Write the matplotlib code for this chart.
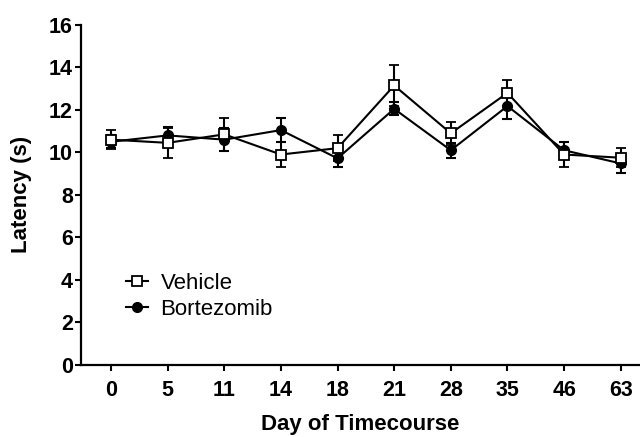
import numpy as np
import matplotlib.pyplot as plt

plt.rcParams['font.family'] = ['Liberation Sans', 'DejaVu Sans']

days = ["0", "5", "11", "14", "18", "21", "28", "35", "46", "63"]

# mean latency (s) and SEM
vehicle = [10.6, 10.45, 10.85, 9.9, 10.2, 13.15, 10.9, 12.8, 9.9, 9.75]
vehicle_sem = [0.45, 0.72, 0.78, 0.6, 0.62, 0.95, 0.55, 0.62, 0.58, 0.44]
bortezomib = [10.5, 10.8, 10.6, 11.05, 9.72, 12.05, 10.1, 12.18, 10.1, 9.48]
bortezomib_sem = [0.3, 0.38, 0.55, 0.55, 0.41, 0.3, 0.36, 0.62, 0.4, 0.44]

x = np.arange(len(days))

fig = plt.figure(figsize=(6.4, 4.37), dpi=100)
ax = fig.add_axes([0.127, 0.165, 0.873, 0.778])

lw = 1.5
b = ax.errorbar(x, bortezomib, yerr=bortezomib_sem, color="black", lw=lw,
                marker="o", ms=7, mfc="black", mec="black",
                capsize=3.5, capthick=lw, elinewidth=lw, zorder=3)
v = ax.errorbar(x, vehicle, yerr=vehicle_sem, color="black", lw=lw,
                marker="s", ms=6.5, mfc="white", mec="black", mew=1.3,
                capsize=3.5, capthick=lw, elinewidth=lw, zorder=4)

ax.set_xlim(-0.524, 9.34)
ax.set_ylim(0, 16)
ax.set_yticks(np.arange(0, 17, 2))
ax.set_xticks(x)
ax.set_xticklabels(days)

for s in ["top", "right"]:
    ax.spines[s].set_visible(False)
for s in ["left", "bottom"]:
    ax.spines[s].set_linewidth(1.6)

ax.tick_params(axis="y", length=4, width=1.5, pad=2, labelsize=15.5)
ax.tick_params(axis="x", length=4, width=1.5, pad=7, labelsize=15.5)
for lab in ax.get_xticklabels() + ax.get_yticklabels():
    lab.set_fontweight("bold")

ax.set_ylabel("Latency (s)", fontsize=16, fontweight="bold", labelpad=12)
ax.set_xlabel("Day of Timecourse", fontsize=16, fontweight="bold", labelpad=9)

# legend handles without the error bars
ax.legend([v[0], b[0]], ["Vehicle", "Bortezomib"], loc="upper left",
          bbox_to_anchor=(0.08, 0.27), frameon=False, fontsize=16,
          handlelength=1.0, handletextpad=0.55, labelspacing=0.2,
          borderpad=0, borderaxespad=0)

fig.savefig("out.png", dpi=100)
